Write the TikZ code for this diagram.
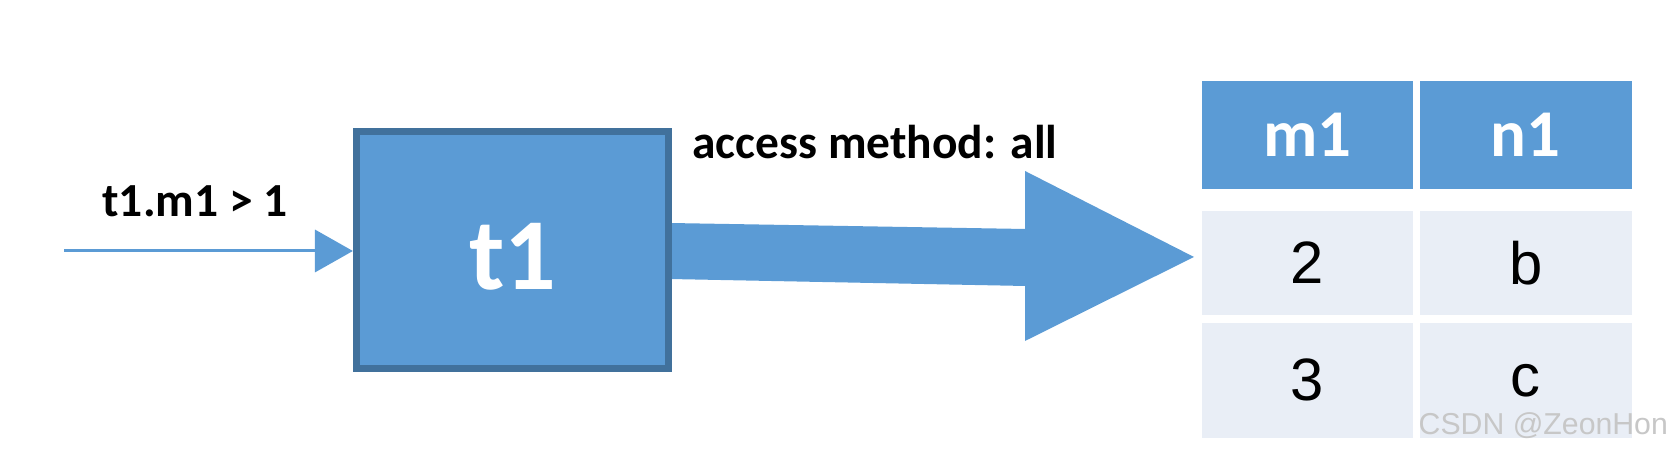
\documentclass[tikz,border=0pt]{standalone}
\usepackage{fontspec}
\setmainfont{Carlito}
\newfontfamily\datafont{Liberation Sans}
\usepackage{tikz}
\usetikzlibrary{arrows.meta, calc, positioning}
\usepackage{xcolor}
\definecolor{boxblue}{HTML}{5B9BD5}
\definecolor{boxedge}{HTML}{41719C}
\definecolor{celllight}{HTML}{E9EEF6}

\begin{document}
\begin{tikzpicture}[x=0.01cm, y=-0.01cm]
        \tikzstyle{tablebox}=[draw=boxedge, fill=boxblue, line width=2pt, minimum width=3.12cm, minimum height=2.37cm, inner sep=0pt]
        \tikzstyle{headcell}=[fill=boxblue, text=white, anchor=north west, inner sep=0pt, font=\bfseries\fontsize{19}{23}\selectfont]
        \tikzstyle{datacell}=[fill=celllight, text=black, anchor=north west, inner sep=0pt, font=\datafont\fontsize{17}{20}\selectfont]
        \tikzstyle{caption}=[font=\bfseries\fontsize{13.5}{16}\selectfont, inner sep=0pt]

        % Fix the page size
        \useasboundingbox (0,0) rectangle (1669,456);

        % Wide arrow to the result (under the box)
        \fill[boxblue] (669,223) -- (1025,229) -- (1025,171) -- (1194,257)
            -- (1025,341) -- (1025,286) -- (669,279) -- cycle;

        % Table box
        \node[tablebox] (t1) at (512.5,250) {};
        \node[text=white, font=\bfseries\fontsize{29}{34}\selectfont] (t1name) at (513,257) {t1};

        % Condition arrow
        \coordinate (in) at (64,251);
        \draw[boxblue, line width=0.85pt, -{Triangle[length=10.8pt, width=12pt]}] (in) -- (in -| t1.west);
        \node[caption] (cond) at (195,201) {t1.m1 > 1};

        % Access label
        \node[caption] (access) at (875,142) {access method: all};

        % Result table
        \node[headcell, minimum width=2.11cm, minimum height=1.08cm] (hm) at (1201,80) {m1};
        \node[headcell, minimum width=2.12cm, minimum height=1.08cm] (hn) at (1419,80) {n1};
        \node[datacell, minimum width=2.11cm, minimum height=1.04cm] (am) at (1201,210) {2};
        \node[datacell, minimum width=2.12cm, minimum height=1.04cm] (an) at (1419,210) {b};
        \node[datacell, minimum width=2.11cm, minimum height=1.15cm] (bm) at (1201,322) {3};
        \node[datacell, minimum width=2.12cm, minimum height=1.15cm] (bn) at (1419,322) {c};

        % Watermark
        \node[anchor=west, inner sep=0pt, text=black!22, font=\datafont\fontsize{8.6}{10}\selectfont] (mark) at (1418,426) {CSDN @ZeonHon};
    \end{tikzpicture}
\end{document}
